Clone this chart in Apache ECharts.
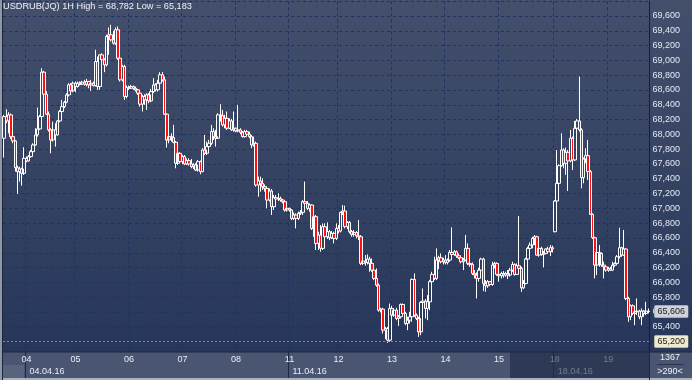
<!DOCTYPE html>
<html><head><meta charset="utf-8">
<script src="https://cdn.jsdelivr.net/npm/echarts@6/dist/echarts.min.js"></script>
<style>html,body{margin:0;padding:0;background:#2b3a5a;}#c{width:692px;height:380px;}</style>
</head><body><div id="c"></div>
<script>
const titleText = 'USDRUB(JQ) 1H High = 68,782 Low = 65,183';
// trading days shown: [date, number of hourly bars]
const days = [['01.04.16',10],['04.04.16',22],['05.04.16',24],['06.04.16',24],['07.04.16',24],['08.04.16',24],
  ['11.04.16',22],['12.04.16',24],['13.04.16',24],['14.04.16',24],['15.04.16',25],['18.04.16',24],['19.04.16',19]];
const weekStarts = ['04.04.16','11.04.16','18.04.16'];
const yMin = 65000, yMax = 69800, yStep = 200;
const lastPrice = 65606;
const alertLevel = 65200;
const counterTop = '1367', counterBottom = '>290<';

const open = [
67948,68241,68182,68264,67970,67912,67551,67497,67533,67474,
67677,67641,67700,67767,67858,67993,68074,68241,68841,68543,
68273,68061,67925,68061,67993,68182,68309,68376,68435,68534,
68669,68588,68692,68647,68692,68678,68706,68678,68715,68669,
68692,68660,68985,68647,69075,69008,68940,69323,69346,69278,
69233,69414,69030,68737,68917,68512,68633,68624,68647,68624,
68602,68557,68408,68512,68466,68534,68453,68579,68669,68602,
68692,68805,68737,68273,67925,67970,67957,67894,67610,67745,
67632,67700,67601,67646,67601,67564,67587,67519,67632,67497,
67790,67745,67835,67880,68038,67970,67948,68264,68255,68128,
68218,68083,68182,68061,68083,68047,68061,68029,67970,68038,
68002,67970,67858,67880,67316,67371,67339,67294,67271,67113,
67235,67023,67145,67127,67136,67113,67091,66978,67001,66978,
66865,66911,66865,66933,66947,67091,67068,67001,67046,66730,
66888,66527,66640,66460,66753,66617,66685,66604,66662,66595,
66730,66694,66947,66965,66753,66811,66685,66649,66676,66631,
66617,66257,66288,66270,66315,66257,66166,66054,65963,65625,
65639,65355,65377,65219,65648,65558,65625,65512,65535,65702,
65580,65445,65490,65535,66040,65558,65512,65332,65729,65747,
65648,65738,66009,66108,66054,66302,66333,66279,66302,66270,
66302,66405,66378,66414,66360,66333,66279,66302,66460,66257,
66243,66121,66099,66054,66166,66315,65986,65954,66009,65972,
66234,66257,66108,66090,66121,66099,66121,66099,66166,66243,
66108,66225,66189,65927,65986,66315,66460,66505,66595,66617,
66369,66460,66378,66392,66451,66414,66469,66685,67100,67339,
67578,67790,67610,67758,67641,67948,67655,68083,68182,68061,
67416,67668,67713,67497,66920,66604,66234,66405,66392,66234,
66211,66166,66189,66166,66234,66257,66347,66469,66369,66451,
65783,65535,65684,65580,65603,65612,65535,65612,65580,65612];

const close = [
68241,68182,68264,67970,67912,67551,67497,67533,67474,67677,
67641,67700,67767,67858,67993,68074,68241,68841,68543,68273,
68061,67925,68061,67993,68182,68309,68376,68435,68534,68669,
68588,68692,68647,68692,68678,68706,68678,68715,68669,68692,
68660,68985,68647,69075,69008,68940,69323,69346,69278,69233,
69414,69030,68737,68917,68512,68633,68624,68647,68624,68602,
68557,68408,68512,68466,68534,68453,68579,68669,68602,68692,
68805,68737,68273,67925,67970,67957,67894,67610,67745,67632,
67700,67601,67646,67601,67564,67587,67519,67632,67497,67790,
67745,67835,67880,68038,67970,67948,68264,68255,68128,68218,
68083,68182,68061,68083,68047,68061,68029,67970,68038,68002,
67970,67858,67880,67316,67371,67339,67294,67271,67113,67235,
67023,67145,67127,67136,67113,67091,66978,67001,66978,66865,
66911,66865,66933,66947,67091,67068,67001,67046,66730,66888,
66527,66640,66460,66753,66617,66685,66604,66662,66595,66730,
66694,66947,66965,66753,66811,66685,66649,66676,66631,66617,
66257,66288,66270,66315,66257,66166,66054,65963,65625,65639,
65355,65377,65219,65648,65558,65625,65512,65535,65702,65580,
65445,65490,65535,66040,65558,65512,65332,65729,65747,65648,
65738,66009,66108,66054,66302,66333,66279,66302,66270,66302,
66405,66378,66414,66360,66333,66279,66302,66460,66257,66243,
66121,66099,66054,66166,66315,65986,65954,66009,65972,66234,
66257,66108,66090,66121,66099,66121,66099,66166,66243,66108,
66225,66189,65927,65986,66315,66460,66505,66595,66617,66369,
66460,66378,66392,66451,66414,66469,66451,67100,67339,67578,
67790,67610,67758,67641,67948,67655,68083,68182,68061,67416,
67668,67713,67497,66920,66604,66234,66405,66392,66234,66211,
66166,66189,66166,66234,66257,66347,66469,66369,66451,65783,
65535,65684,65580,65603,65612,65535,65612,65580,65612,65606];

const low = [
67686,68151,68015,67939,67880,67497,67195,67362,67307,67452,
67623,67632,67686,67745,67849,67970,68061,68227,68534,68264,
68038,67745,67903,67835,67984,68164,68286,68354,68421,68512,
68570,68570,68570,68633,68660,68669,68660,68647,68624,68588,
68647,68647,68602,68602,68940,68841,68917,69075,69256,69211,
69211,69008,68715,68715,68466,68489,68602,68615,68602,68579,
68534,68376,68309,68399,68331,68421,68435,68557,68579,68579,
68669,68715,68264,67822,67880,67903,67880,67542,67587,67610,
67596,67587,67587,67578,67542,67533,67506,67497,67461,67488,
67722,67722,67767,67858,67925,67835,67939,68173,68106,68083,
68061,68074,68047,68038,68029,68029,68002,67957,67957,67984,
67948,67813,67835,67294,67159,67226,67249,67226,67001,67091,
66911,66978,67091,67100,67091,67068,66956,66956,66956,66843,
66843,66730,66843,66911,66911,67046,66978,66956,66708,66617,
66437,66437,66414,66437,66595,66586,66572,66586,66527,66572,
66662,66676,66911,66730,66721,66662,66617,66617,66595,66572,
66234,66234,66225,66243,66144,66144,66031,65941,65603,65594,
65309,65233,65183,65197,65521,65535,65490,65413,65512,65558,
65422,65355,65445,65467,65535,65490,65264,65287,65693,65512,
65490,65625,65986,66031,66031,66180,66257,66243,66243,66243,
66279,66347,66360,66333,66315,66257,66166,66288,66234,66211,
66099,66054,65783,66009,66144,65882,65873,65927,65954,65954,
66189,66090,66009,66054,66063,66076,66045,66076,66144,66090,
66099,66144,65873,65909,65972,66279,66347,66460,66505,66360,
66347,66360,66202,66378,66392,66356,66405,66676,67082,67235,
67564,67542,67452,67235,67623,67519,67641,68047,68038,67271,
67339,67610,67384,66911,66586,66054,66099,66211,66211,66054,
66144,66144,66153,66153,66211,66234,66324,66347,66360,65760,
65467,65490,65558,65422,65558,65503,65422,65535,65558,65580];

const high = [
68264,68340,68300,68282,68015,67925,67578,67564,67551,67826,
67700,67722,67790,67880,68083,68363,68264,68895,68859,68588,
68309,68083,68173,68151,68196,68331,68466,68453,68557,68692,
68692,68715,68715,68715,68715,68724,68737,68751,68724,68737,
68715,69143,69053,69084,69098,69030,69346,69445,69481,69400,
69445,69459,69039,68940,68940,68660,68660,68669,68660,68647,
68615,68588,68534,68543,68557,68557,68615,68760,68692,68737,
68841,68841,68782,68286,68038,68015,68128,67912,67767,67758,
67722,67722,67677,67677,67668,67610,67610,67655,67646,67813,
67993,67903,67925,68128,68083,68061,68286,68408,68331,68264,
68309,68218,68209,68309,68092,68399,68083,68047,68061,68061,
68038,67993,67970,67903,67429,67429,67407,67325,67294,67271,
67262,67181,67181,67204,67159,67127,67113,67023,67010,66992,
66947,66933,66956,66978,67113,67362,67100,67068,67055,66911,
66911,66685,66775,66798,66798,66811,66708,66694,66685,66798,
66775,66956,67046,67037,66829,66829,66708,66708,66694,66843,
66640,66324,66369,66378,66347,66324,66211,66189,65986,65657,
65657,65400,65400,65715,65684,65648,65657,65558,65715,65715,
65603,65535,65603,66054,66121,65580,65535,65747,65918,65774,
65828,66031,66144,66347,66460,66360,66392,66333,66369,66324,
66437,66744,66437,66432,66392,66360,66333,66640,66527,66288,
66270,66166,66135,66198,66333,66333,66031,66031,66018,66279,
66279,66270,66144,66144,66153,66144,66166,66198,66279,66257,
66257,66897,66211,66031,66333,66482,66541,66617,66640,66631,
66482,66482,66423,66460,66482,66505,66496,67113,67790,67596,
68015,67813,67822,67790,68061,67970,68182,68209,68782,68083,
67686,67813,67925,67519,66933,66617,66423,66505,66405,66279,
66225,66211,66211,66279,66270,66369,66739,66482,66708,66460,
65806,65702,65702,65625,65783,65630,65648,65625,65738,65648];

// ---- build category axis from the day list ----
const categories = [];
const dayStart = new Set();
const weekStart = new Set();
let idx = 0;
days.forEach(([d, n], k) => {
  const h0 = Math.max(0, 24 - n);
  for (let j = 0; j < n; j++) categories.push(d + ' ' + String(h0 + j).padStart(2, '0') + ':00');
  if (k > 0) {
    dayStart.add(idx);
    if (weekStarts.includes(d)) weekStart.add(idx);
  }
  idx += n;
});

const fmt = v => String(Math.round(v)).replace(/\B(?=(\d{3})+(?!\d))/g, ',');
const FONT = 'Liberation Sans';
const gridLine = { color: '#1b3466', type: [3, 3], width: 1 };

const chart = echarts.init(document.getElementById('c'), null, { renderer: 'canvas' });
chart.setOption({
  animation: false,
  backgroundColor: { type: 'linear', x: 0, y: 0, x2: 0, y2: 1,
    colorStops: [{ offset: 0, color: '#434f6b' }, { offset: 0.92, color: '#27365a' }, { offset: 1, color: '#27365a' }] },
  title: { text: titleText, left: 3, top: 2, padding: 0,
    textStyle: { color: '#eef1f6', fontSize: 9.2, fontWeight: 'normal', fontFamily: FONT } },
  grid: { left: 3, top: 1.2, width: 646.5, height: 355.2, containLabel: false, outerBoundsMode: 'none' },
  xAxis: [
    { type: 'category', data: categories, boundaryGap: true, position: 'bottom', z: 0,
      axisLine: { show: false }, axisTick: { show: false }, axisLabel: { show: false },
      splitLine: { show: true, interval: (i) => dayStart.has(i), lineStyle: gridLine } },
    { type: 'category', data: categories, boundaryGap: true, position: 'bottom', offset: -4.4, z: 5,
      axisLine: { show: false }, axisTick: { show: false }, splitLine: { show: false },
      axisLabel: { show: true, interval: (i) => dayStart.has(i), formatter: v => v.slice(0, 2),
        color: '#e8edf6', fontSize: 9, fontFamily: FONT, margin: 3 } },
    { type: 'category', data: categories, boundaryGap: true, position: 'bottom', offset: -4.4, z: 5,
      axisLine: { show: false }, splitLine: { show: false },
      axisTick: { show: true, interval: (i) => weekStart.has(i), length: 26, lineStyle: { color: '#1e2840', width: 1 } },
      axisLabel: { show: true, interval: (i) => weekStart.has(i), formatter: v => v.slice(0, 8),
        align: 'left', padding: [0, 0, 0, 3], color: '#e8edf6', fontSize: 9, fontFamily: FONT, margin: 15 } }
  ],
  yAxis: { type: 'value', position: 'right', min: yMin, max: yMax, interval: yStep,
    axisLine: { show: true, lineStyle: { color: '#161e34', width: 1 } },
    axisTick: { show: false },
    axisLabel: { margin: 3, color: '#e3e9f4', fontSize: 9, fontFamily: FONT,
      formatter: v => (v > 69600 || v < 65400) ? '' : fmt(v) },
    splitLine: { show: true, lineStyle: gridLine } },
  series: [{
    type: 'candlestick', xAxisIndex: 0, yAxisIndex: 0, barWidth: 3,
    data: open.map((o, i) => [o, close[i], low[i], high[i]]),
    itemStyle: { color: 'rgba(0,0,0,0)', color0: '#ff1010', borderColor: '#ffffff', borderColor0: '#ffffff', borderWidth: 1 },
    markLine: { silent: true, symbol: ['none', 'none'], animation: false,
      data: [
        { yAxis: alertLevel, lineStyle: { color: '#1fd31f', type: [2, 2], width: 1 },
          label: { show: true, position: 'end', distance: 5, formatter: () => fmt(alertLevel),
            backgroundColor: '#eeead0', color: '#1a1a1a', fontSize: 9, fontFamily: FONT,
            padding: [2, 3, 1, 3], borderColor: '#8d8a66', borderWidth: 0.5, borderRadius: 1 } },
        { yAxis: lastPrice, lineStyle: { color: 'rgba(0,0,0,0)', width: 0 },
          label: { show: true, position: 'end', distance: 5, formatter: () => fmt(lastPrice),
            backgroundColor: '#cdd2dc', color: '#1a1a1a', fontSize: 9, fontFamily: FONT,
            padding: [2, 3, 1, 3], borderColor: '#7d869a', borderWidth: 0.5, borderRadius: 1 } }
      ] }
  }],
  graphic: [
    { type: 'rect', z: 1, silent: true, shape: { x: 0, y: 352, width: 692, height: 28 }, style: { fill: '#4a5571' } },
    { type: 'rect', z: 1, silent: true, shape: { x: 0, y: 351.5, width: 692, height: 1 }, style: { fill: '#1d2740' } },
    { type: 'rect', z: 1, silent: true, shape: { x: 3, y: 365, width: 21, height: 13 }, style: { fill: '#58647e' } },
    { type: 'rect', z: 1, silent: true, shape: { x: 0, y: 378, width: 692, height: 2 }, style: { fill: '#a9b0bf' } },
    { type: 'rect', z: 1, silent: true, shape: { x: 0, y: 0, width: 2, height: 380 }, style: { fill: '#8f98ab' } },
    { type: 'rect', z: 1, silent: true, shape: { x: 2, y: 0, width: 1, height: 380 }, style: { fill: '#1e263a' } },
    { type: 'rect', z: 1, silent: true, shape: { x: 649, y: 352, width: 1, height: 28 }, style: { fill: '#1a2238' } },
    { type: 'rect', z: 10, silent: true, shape: { x: 510, y: 352, width: 139, height: 26 }, style: { fill: 'rgba(28,40,66,0.6)' } },
    { type: 'text', z: 10, silent: true, x: 670, y: 358,
      style: { text: counterTop, fill: '#eef1f6', font: '9px "Liberation Sans"', align: 'center', verticalAlign: 'middle' } },
    { type: 'rect', z: 10, silent: true, shape: { x: 657, y: 364, width: 27, height: 1 }, style: { fill: '#2a344e' } },
    { type: 'text', z: 10, silent: true, x: 670, y: 372,
      style: { text: counterBottom, fill: '#eef1f6', font: '9px "Liberation Sans"', align: 'center', verticalAlign: 'middle' } }
  ]
});
</script></body></html>
